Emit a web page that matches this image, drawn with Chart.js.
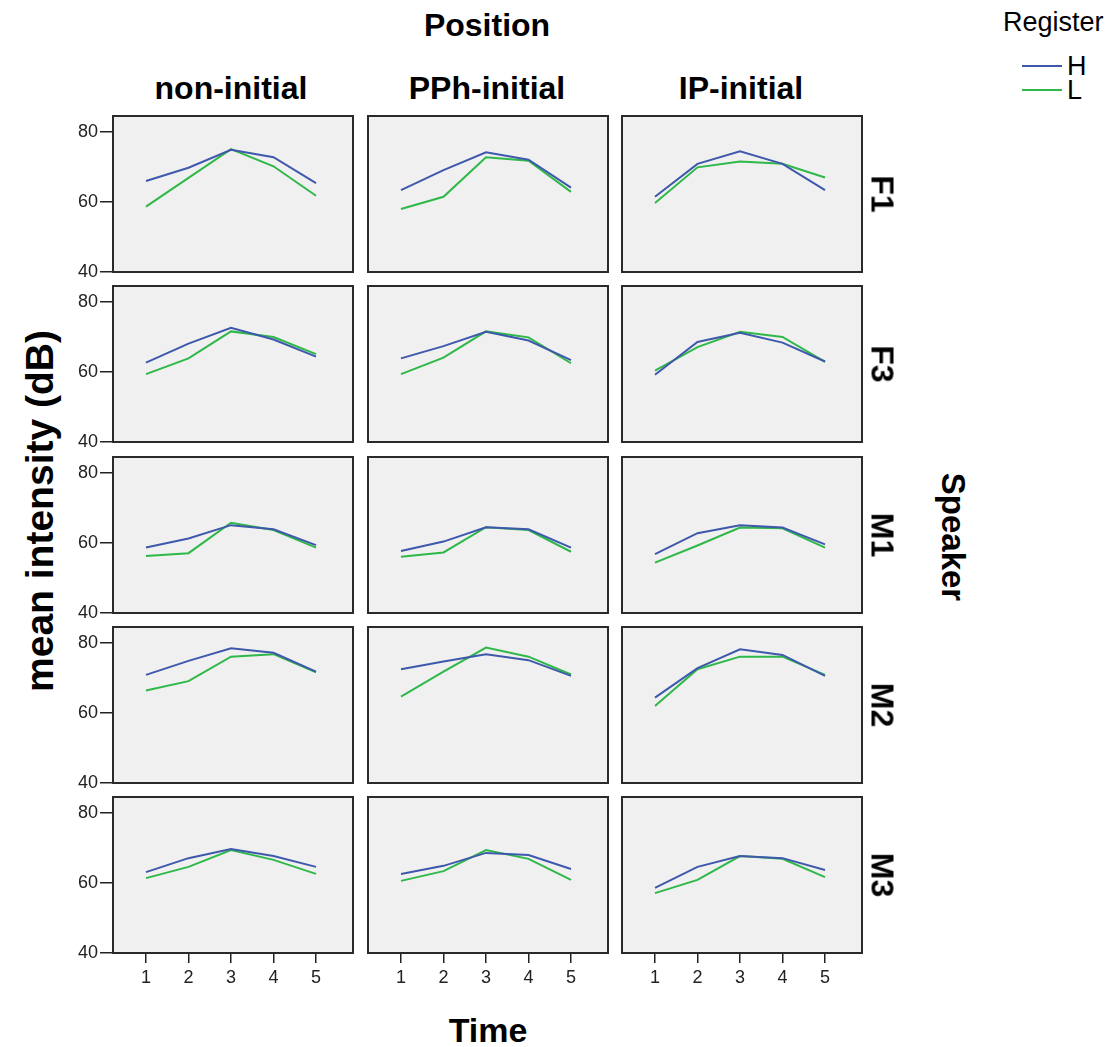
<!DOCTYPE html>
<html>
<head>
<meta charset="utf-8">
<script src="https://cdn.jsdelivr.net/npm/chart.js@4.4.1/dist/chart.umd.min.js"></script>
<style>
  body { margin: 0; background: #fff; width: 1115px; height: 1047px; position: relative; overflow: hidden;
         font-family: "Liberation Sans", Arial, sans-serif; color: #000; }
  .lbl { position: absolute; white-space: nowrap; transform: translate(-50%, -50%); font-weight: bold; }
  .panel { position: absolute; }
  .leg { position: absolute; white-space: nowrap; font-size: 27px; transform: translate(0, -50%); }
  .legline { position: absolute; height: 2px; width: 40px; }
</style>
</head>
<body>
<div class="lbl" style="left:487px; top:25px; font-size:32px;">Position</div>
<div class="lbl" style="left:231px; top:88px; font-size:32px;">non-initial</div>
<div class="lbl" style="left:487px; top:88px; font-size:32px;">PPh-initial</div>
<div class="lbl" style="left:741px; top:88px; font-size:32px;">IP-initial</div>
<div class="lbl" style="left:953px; top:537px; font-size:33px; transform:translate(-50%,-50%) rotate(90deg);">Speaker</div>
<div class="lbl" style="left:40px; top:511px; font-size:39px; transform:translate(-50%,-50%) rotate(-90deg);">mean intensity (dB)</div>
<div class="lbl" style="left:488px; top:1030px; font-size:34px;">Time</div>

<div class="leg" style="left:1003px; top:22px;">Register</div>
<div class="legline" style="left:1022px; top:65px; background:#3E58AC;"></div>
<div class="leg" style="left:1067px; top:66px;">H</div>
<div class="legline" style="left:1022px; top:89px; background:#2EB848;"></div>
<div class="leg" style="left:1067px; top:90px;">L</div>

<script>
const timePoints = [1, 2, 3, 4, 5];
const positions = ["non-initial", "PPh-initial", "IP-initial"];
const speakers = ["F1", "F3", "M1", "M2", "M3"];
const registers = ["H", "L"];
const yTicks = [40, 60, 80];

// mean intensity (dB), one row per position: non-initial, PPh-initial, IP-initial
const f1High = [[66.0, 69.8, 74.9, 72.8, 65.4], [63.4, 69.1, 74.2, 72.1, 64.1], [61.5, 70.9, 74.5, 70.9, 63.4]];
const f1Low  = [[58.7, 66.9, 75.1, 70.2, 61.8], [58.0, 61.5, 72.8, 71.8, 62.9], [59.7, 69.9, 71.6, 70.9, 67.0]];
const f3High = [[62.7, 68.1, 72.6, 69.3, 64.4], [63.9, 67.4, 71.5, 69.0, 63.4], [59.2, 68.6, 71.2, 68.4, 63.0]];
const f3Low  = [[59.4, 63.9, 71.6, 70.0, 65.1], [59.4, 64.1, 71.6, 69.9, 62.5], [60.4, 67.1, 71.5, 70.0, 62.9]];
const m1High = [[58.7, 61.3, 65.1, 63.9, 59.4], [57.7, 60.4, 64.5, 63.9, 58.7], [56.8, 62.8, 65.1, 64.4, 59.6]];
const m1Low  = [[56.3, 57.1, 65.8, 63.7, 58.7], [56.1, 57.3, 64.5, 63.7, 57.5], [54.4, 59.3, 64.4, 64.2, 58.7]];
const m2High = [[70.9, 74.9, 78.5, 77.2, 71.8], [72.5, 74.7, 76.8, 75.1, 70.6], [64.4, 72.8, 78.2, 76.6, 70.6]];
const m2Low  = [[66.4, 69.1, 76.1, 76.8, 71.6], [64.7, 71.8, 78.7, 76.1, 71.0], [62.0, 72.5, 76.1, 76.1, 70.9]];
const m3High = [[63.1, 67.1, 69.7, 67.7, 64.6], [62.6, 64.9, 68.6, 68.0, 64.0], [58.6, 64.6, 67.7, 67.1, 63.7]];
const m3Low  = [[61.4, 64.6, 69.4, 66.6, 62.6], [60.6, 63.4, 69.4, 66.9, 60.9], [57.1, 60.9, 67.7, 66.9, 61.7]];

const seriesBySpeaker = {
  F1: [f1High, f1Low],
  F3: [f3High, f3Low],
  M1: [m1High, m1Low],
  M2: [m2High, m2Low],
  M3: [m3High, m3Low],
};

const colors = ["#3E58AC", "#2EB848"];
const font = "'Liberation Sans', Arial, sans-serif";

// panel geometry (plot area of each facet)
const colLeft = [113, 368, 622];
const rowTop = [116, 286, 457, 627, 797];
const panelW = 240, panelH = 156;

// grey background + dark frame round each facet
const panelBox = {
  id: "panelBox",
  beforeDraw(chart) {
    const { ctx, chartArea: a } = chart;
    ctx.save();
    ctx.fillStyle = "#f0f0f0";
    ctx.fillRect(a.left, a.top, a.width, a.height);
    ctx.restore();
  },
  afterDraw(chart) {
    const { ctx, chartArea: a } = chart;
    ctx.save();
    ctx.strokeStyle = "#2a2a2a";
    ctx.lineWidth = 2;
    ctx.strokeRect(a.left, a.top, a.width, a.height);
    ctx.restore();
  },
};

function makePanel(r, c) {
  const showY = c === 0;
  const showX = r === speakers.length - 1;
  const L = showY ? 74 : 4;           // room for y ticks
  const xAxisH = showX ? 46 : 0;      // room for x ticks
  const padB = showY && !showX ? 14 : 4; // so the "40" label isn't cut off

  const div = document.createElement("div");
  div.className = "panel";
  div.style.left = (colLeft[c] - L) + "px";
  div.style.top = (rowTop[r] - 4) + "px";
  div.style.width = (panelW + L + 4) + "px";
  div.style.height = (panelH + 4 + padB + xAxisH) + "px";
  const canvas = document.createElement("canvas");
  div.appendChild(canvas);
  document.body.appendChild(div);

  const pair = seriesBySpeaker[speakers[r]];

  new Chart(canvas, {
    type: "line",
    data: {
      datasets: registers.map((reg, k) => ({
        label: reg,
        data: timePoints.map((t, i) => ({ x: t, y: pair[k][c][i] })),
        borderColor: colors[k],
        borderWidth: 2,
        pointRadius: 0,
        tension: 0,
        fill: false,
      })),
    },
    options: {
      responsive: true,
      maintainAspectRatio: false,
      animation: false,
      events: [],
      layout: { padding: { top: 4, right: 4, bottom: padB, left: 4 } },
      plugins: { legend: { display: false }, tooltip: { enabled: false } },
      scales: {
        x: {
          type: "linear",
          display: showX,
          min: 0.224,
          max: 5.87,
          afterBuildTicks: (s) => { s.ticks = timePoints.map((v) => ({ value: v })); },
          afterFit: (s) => { s.height = xAxisH; s.paddingLeft = 0; s.paddingRight = 0; },
          grid: { drawOnChartArea: false, drawTicks: true, tickLength: 10, color: "#222", lineWidth: 1.5 },
          border: { display: false },
          ticks: { color: "#222", font: { size: 18, family: font }, padding: 4, maxRotation: 0 },
        },
        y: {
          type: "linear",
          display: showY,
          min: 40,
          max: 40 + panelH / 3.5,
          afterBuildTicks: (s) => { s.ticks = yTicks.map((v) => ({ value: v })); },
          afterFit: (s) => { s.width = L - 4; s.paddingTop = 0; s.paddingBottom = 0; },
          grid: { drawOnChartArea: false, drawTicks: true, tickLength: 13, color: "#222", lineWidth: 1.5 },
          border: { display: false },
          ticks: { color: "#222", font: { size: 18, family: font }, padding: 2 },
        },
      },
    },
    plugins: [panelBox],
  });
}

speakers.forEach((sp, r) => {
  positions.forEach((pos, c) => makePanel(r, c));
  // speaker label on the right of each row
  const lab = document.createElement("div");
  lab.className = "lbl";
  lab.textContent = sp;
  lab.style.left = "882px";
  lab.style.top = (rowTop[r] + panelH / 2) + "px";
  lab.style.fontSize = "32px";
  lab.style.transform = "translate(-50%,-50%) rotate(90deg)";
  document.body.appendChild(lab);
});
</script>
</body>
</html>
